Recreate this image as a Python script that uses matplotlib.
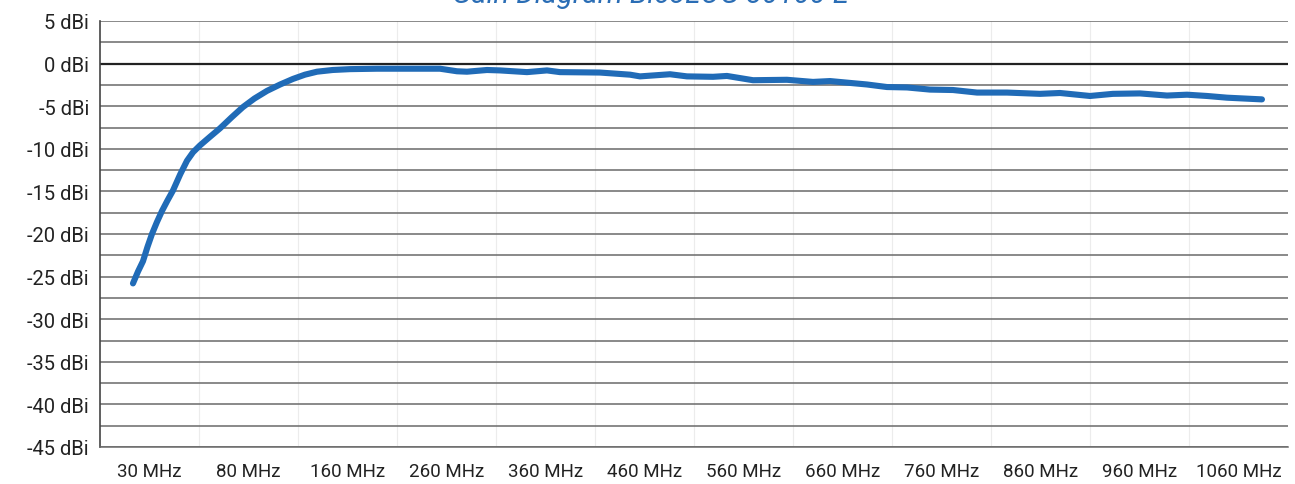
import matplotlib
matplotlib.use("Agg")
import matplotlib.pyplot as plt

# band labels (one per category bin)
bandLabels = ["30 MHz", "80 MHz", "160 MHz", "260 MHz", "360 MHz", "460 MHz",
              "560 MHz", "660 MHz", "760 MHz", "860 MHz", "960 MHz", "1060 MHz"]

# measured curve: position along category axis (bin units) and gain in dBi
pos = [0.333, 0.384, 0.434, 0.48, 0.525, 0.575, 0.626, 0.68, 0.737, 0.81,
       0.879, 0.94, 1.01, 1.11, 1.212, 1.33, 1.444, 1.56, 1.687, 1.82,
       1.949, 2.07, 2.192, 2.35, 2.525, 2.798, 3.131, 3.434, 3.606, 3.707,
       3.909, 4.04, 4.313, 4.515, 4.646, 5.05, 5.354, 5.455, 5.758, 5.929,
       6.192, 6.333, 6.596, 6.939, 7.202, 7.374, 7.606, 7.747, 7.949, 8.152,
       8.384, 8.616, 8.859, 9.162, 9.495, 9.697, 10.0, 10.232, 10.505, 10.778,
       10.98, 11.182, 11.384, 11.737]
gain = [-25.8, -24.4, -23.2, -21.5, -20.0, -18.6, -17.3, -16.1, -14.9, -13.0,
        -11.4, -10.4, -9.6, -8.6, -7.6, -6.3, -5.1, -4.1, -3.2, -2.45,
        -1.8, -1.3, -0.95, -0.75, -0.65, -0.6, -0.6, -0.6, -0.9, -0.95,
        -0.75, -0.8, -1.0, -0.8, -1.0, -1.05, -1.3, -1.5, -1.25, -1.5,
        -1.55, -1.45, -1.95, -1.9, -2.15, -2.05, -2.3, -2.45, -2.75, -2.8,
        -3.05, -3.1, -3.4, -3.4, -3.55, -3.45, -3.8, -3.55, -3.5, -3.75,
        -3.65, -3.8, -4.0, -4.2]

yTicks = list(range(5, -50, -5))

plt.rcParams['font.family'] = ['Roboto', 'DejaVu Sans']

fig = plt.figure(figsize=(12.95, 4.85), dpi=100)
ax = fig.add_axes([100/1295, 37/485, 1188/1295, 426/485])

ax.set_xlim(0, len(bandLabels))
ax.set_ylim(-45, 5)

# horizontal grid every 2.5 dB, darker zero line
for v in [5 - 2.5*k for k in range(21)]:
    if v == 0:
        ax.axhline(v, color="#222222", lw=1.6, zorder=1)
    else:
        ax.axhline(v, color="#6a6a6a", lw=1.1, zorder=1)
# faint vertical bin separators
for k in range(1, len(bandLabels)):
    ax.axvline(k, color="#ececec", lw=0.8, zorder=0)

ax.plot(pos, gain, color="#206bb7", lw=4.4, solid_capstyle="round",
        solid_joinstyle="round", zorder=3)

ax.set_yticks(yTicks)
ax.set_yticklabels([f"{t} dBi" for t in yTicks], fontsize=14.5, color="#222222")
ax.set_xticks([k + 0.5 for k in range(len(bandLabels))])
ax.set_xticklabels(bandLabels, fontsize=13.5, color="#222222")
ax.tick_params(length=0, pad=8)
ax.tick_params(axis="x", pad=11)

for s in ["top", "right"]:
    ax.spines[s].set_visible(False)
ax.spines["left"].set_color("#444444")
ax.spines["left"].set_linewidth(1.2)
ax.spines["bottom"].set_color("#6a6a6a")
ax.spines["bottom"].set_linewidth(1.1)

fig.text(650/1295, 1 - 3/485, "Gain Diagram BicoLOG 30100 E", ha="center",
         va="baseline", fontsize=21, style="italic", color="#2a6db5")

fig.savefig("out.png", dpi=100)
